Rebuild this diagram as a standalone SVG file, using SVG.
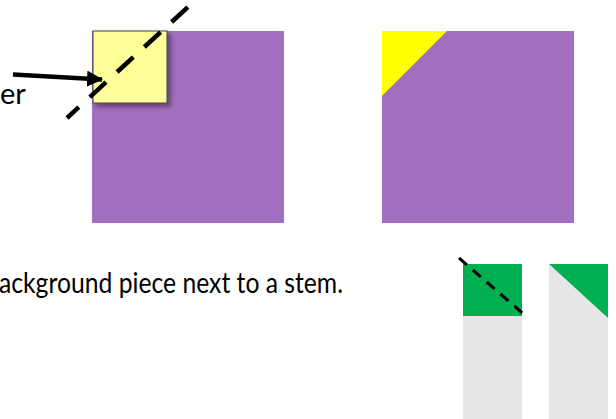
<svg xmlns="http://www.w3.org/2000/svg" width="616" height="419" viewBox="0 0 616 419">
  <style>
    .purple { fill: #A26FC0; }
    .green { fill: #00B050; }
    .gray { fill: #E7E6E6; }
    .label { font-family: Lato, "Open Sans", sans-serif; font-size: 29px; fill: #000000; }
    .cutBig { stroke: #000000; stroke-width: 4.5; fill: none; stroke-dasharray: 22 15; stroke-dashoffset: 6; }
    .cutSmall { stroke: #000000; stroke-width: 3; fill: none; stroke-dasharray: 10.5 7.8; }
  </style>
  <defs>
    <filter id="shadow" x="-20%" y="-20%" width="150%" height="150%">
      <feDropShadow dx="3" dy="3" stdDeviation="2.5" flood-color="#000000" flood-opacity="0.45"/>
    </filter>
    <marker id="arrowhead" markerUnits="userSpaceOnUse" markerWidth="16" markerHeight="16" viewBox="0 0 16 16" refX="15" refY="8" orient="auto">
      <path d="M0,0 L16,8 L0,16 Z" fill="#000000"/>
    </marker>
  </defs>
  <rect width="616" height="419" fill="#FFFFFF"/>

  <g id="label-corner">
    <text class="label" x="0" y="104">er</text>
  </g>

  <g id="square-before">
    <rect class="purple" x="92" y="31" width="192" height="192"/>
  </g>

  <g id="yellow-corner">
    <rect x="93" y="31" width="74" height="72" fill="#FFFF99" stroke="#404040" stroke-width="1" filter="url(#shadow)"/>
  </g>

  <g id="cut-line-top">
    <line class="cutBig" x1="67" y1="118" x2="188" y2="7"/>
  </g>

  <g id="square-after">
    <rect class="purple" x="382" y="31" width="192" height="192"/>
    <polygon points="382,31 447,31 382,96" fill="#FFFF00"/>
  </g>

  <g id="label-stem">
    <text class="label" x="-1" y="293" textLength="344" lengthAdjust="spacingAndGlyphs">ackground piece next to a stem.</text>
  </g>

  <g id="strip-before">
    <rect class="green" x="463" y="264" width="59" height="52"/>
    <rect class="gray" x="463" y="316" width="59" height="103"/>
  </g>

  <g id="cut-line-bottom">
    <line class="cutSmall" x1="459" y1="258" x2="523.5" y2="314"/>
  </g>

  <g id="strip-after">
    <polygon class="gray" points="549,264 608,318 608,419 549,419"/>
    <polygon class="green" points="549,264 608,264 608,318"/>
  </g>

  <g id="connectors">
    <line x1="13" y1="74.5" x2="102" y2="79.5" stroke="#000000" stroke-width="4.5" marker-end="url(#arrowhead)"/>
  </g>
</svg>
